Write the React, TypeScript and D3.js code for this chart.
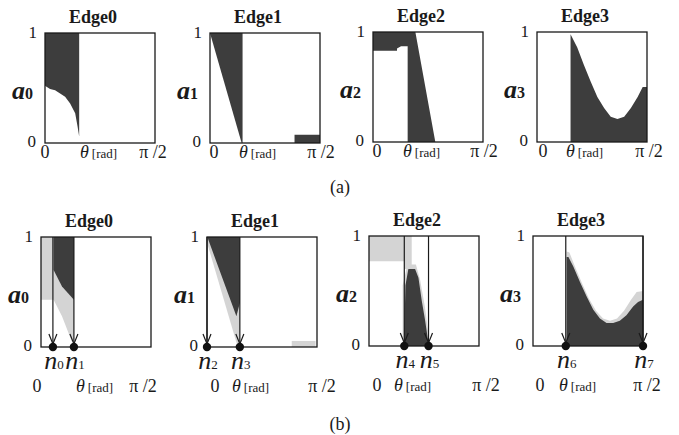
import React from "react";
import { scaleLinear, line } from "d3";

type Pt = [number, number];

const HALF_PI = Math.PI / 2;

// titles and axis names
const edgeTitles = ["Edge0", "Edge1", "Edge2", "Edge3"];
const axisIndex = ["0", "1", "2", "3"];
const nodeNames = [["0", "1"], ["2", "3"], ["4", "5"], ["6", "7"]];

// (a) feasible regions, [theta rad, a]
const a0Dark: Pt[] = [[0, 1], [0.488, 1], [0.488, 0.06], [0.465, 0.15], [0.431, 0.27], [0.359, 0.36], [0.287, 0.42], [0.216, 0.45], [0.144, 0.48], [0.072, 0.49], [0, 0.52]];
const a1Dark: Pt[] = [[0, 1], [0.465, 1], [0.465, 0], [0.452, 0]];
const a1DarkTail: Pt[] = [[1.207, 0], [1.571, 0], [1.571, 0.075], [1.207, 0.075]];
const a2Dark: Pt[] = [[0, 1], [0.605, 1], [0.89, 0], [0.495, 0], [0.495, 0.87], [0.4, 0.87], [0.343, 0.85], [0.343, 0.83], [0, 0.83]];
const a3Dark: Pt[] = [[0.479, 0], [0.479, 0.98], [0.575, 0.86], [0.67, 0.7], [0.766, 0.55], [0.862, 0.41], [0.958, 0.31], [1.053, 0.23], [1.149, 0.21], [1.245, 0.23], [1.341, 0.31], [1.437, 0.41], [1.509, 0.5], [1.571, 0.5], [1.571, 0]];

// (b) regions: light = lower weight, dark = selected
const b0Light: Pt[] = [[0, 1], [0.47, 1], [0.47, 0.05], [0.44, 0.05], [0.3, 0.28], [0.18, 0.43], [0, 0.43]];
const b0Dark: Pt[] = [[0.18, 1], [0.47, 1], [0.47, 0.43], [0.3, 0.55], [0.18, 0.7]];
const b1Light: Pt[] = [[0, 1], [0.469, 1], [0.469, 0.02], [0.43, 0.02], [0, 0.95]];
const b1LightTail: Pt[] = [[1.21, 0], [1.55, 0], [1.55, 0.055], [1.21, 0.055]];
const b1Dark: Pt[] = [[0, 1], [0.469, 1], [0.469, 0.4], [0.42, 0.28], [0.01, 0.99]];
const b2Light: Pt[] = [[0, 1], [0.61, 1], [0.61, 0.7], [0.5, 0.7], [0.5, 0.77], [0, 0.77]];
const b2Fringe: Pt[] = [[0.48, 0], [0.48, 0.55], [0.55, 0.74], [0.67, 0.74], [0.73, 0.6], [0.8, 0.35], [0.87, 0]];
const b2Dark: Pt[] = [[0.5, 0], [0.52, 0.55], [0.562, 0.7], [0.658, 0.7], [0.706, 0.62], [0.754, 0.41], [0.802, 0.23], [0.85, 0.02], [0.85, 0]];
const b3Light: Pt[] = [[0.48, 0], [0.48, 0.86], [0.52, 0.85], [0.6, 0.72], [0.7, 0.57], [0.8, 0.43], [0.9, 0.32], [1.0, 0.25], [1.1, 0.23], [1.2, 0.25], [1.3, 0.32], [1.4, 0.42], [1.48, 0.49], [1.571, 0.5], [1.571, 0]];
const b3Dark: Pt[] = [[0.48, 0], [0.48, 0.81], [0.506, 0.81], [0.577, 0.72], [0.672, 0.58], [0.766, 0.45], [0.861, 0.33], [0.956, 0.25], [1.05, 0.21], [1.145, 0.21], [1.24, 0.23], [1.334, 0.28], [1.43, 0.36], [1.5, 0.4], [1.571, 0.42], [1.571, 0]];

// node positions on theta axis
const b0Nodes = [0.17, 0.47];
const b1Nodes = [0, 0.469];
const b2Nodes = [0.504, 0.85];
const b3Nodes = [0.468, 1.571];

const topRegions = [
  { light: [] as Pt[][], dark: [a0Dark] },
  { light: [], dark: [a1Dark, a1DarkTail] },
  { light: [], dark: [a2Dark] },
  { light: [], dark: [a3Dark] },
];
const bottomRegions = [
  { light: [b0Light], dark: [b0Dark], nodes: b0Nodes },
  { light: [b1Light, b1LightTail], dark: [b1Dark], nodes: b1Nodes },
  { light: [b2Light, b2Fringe], dark: [b2Dark], nodes: b2Nodes },
  { light: [b3Light], dark: [b3Dark], nodes: b3Nodes },
];

// layout
const SIZE = 110;
const topLayout = [
  { x: 45, y: 33, zero: 0, theta: 35, pi: -2 },
  { x: 210, y: 33, zero: 4, theta: 29, pi: 1 },
  { x: 373, y: 32, zero: 4, theta: 30, pi: 1 },
  { x: 537, y: 32, zero: 6, theta: 29, pi: 2 },
];
const bottomLayout = [
  { x: 41, y: 237, zero: -4, theta: 35, pi: -8 },
  { x: 207, y: 237, zero: 8, theta: 25, pi: 5 },
  { x: 369, y: 236, zero: 8, theta: 25, pi: 7 },
  { x: 533, y: 236, zero: 7, theta: 26, pi: 4 },
];

const DARK = "#3d3d3d";
const LIGHT = "#d4d4d4";
const INK = "#1a1a1a";
const SERIF = '"Liberation Serif", "Times New Roman", Times, serif';

const xScale = scaleLinear().domain([0, HALF_PI]).range([0, SIZE]);
const yScale = scaleLinear().domain([0, 1]).range([SIZE, 0]);
const poly = line<Pt>()
  .x((d) => xScale(d[0]))
  .y((d) => yScale(d[1]));

function Panel({ i, lay, light, dark, nodes, xLabelDy }: any) {
  const bottom = SIZE;
  return (
    <g transform={`translate(${lay.x},${lay.y})`} style={{ fontFamily: SERIF }} fill={INK}>
      <text x={SIZE / 2 - 7} y={-10} textAnchor="middle" fontWeight="bold" fontSize={18}>
        {edgeTitles[i]}
      </text>
      {light.map((p: Pt[], k: number) => (
        <path key={"l" + k} d={poly(p) + "Z"} fill={LIGHT} />
      ))}
      {dark.map((p: Pt[], k: number) => (
        <path key={"d" + k} d={poly(p) + "Z"} fill={DARK} />
      ))}
      <rect x={0} y={0} width={SIZE} height={SIZE} fill="none" stroke={INK} strokeWidth={1.3} />
      <text x={-8} y={5} textAnchor="end" fontSize={17}>1</text>
      <text x={-9} y={bottom + 4} textAnchor="end" fontSize={17}>0</text>
      <text x={-33} y={66} fontSize={26}>
        <tspan fontWeight="bold" fontStyle="italic">a</tspan>
        <tspan fontSize={16} fontWeight="bold">{axisIndex[i]}</tspan>
      </text>
      {nodes &&
        nodes.map((t: number, k: number) => {
          const nx = xScale(t);
          return (
            <g key={"n" + k}>
              <line x1={nx} x2={nx} y1={0} y2={bottom - 3} stroke={INK} strokeWidth={1.2} />
              <polyline
                points={`${nx - 4},${bottom - 13} ${nx},${bottom - 3} ${nx + 4},${bottom - 13}`}
                fill="none"
                stroke={INK}
                strokeWidth={1.2}
              />
              <circle cx={nx} cy={bottom} r={4.2} fill="#111" />
              <text x={nx + 1} y={bottom + 22} textAnchor="middle" fontSize={26} fontStyle="italic">
                n<tspan fontSize={13} fontStyle="normal">{nodeNames[i][k]}</tspan>
              </text>
            </g>
          );
        })}
      <g transform={`translate(0,${bottom + xLabelDy})`}>
        <text x={lay.zero} y={0} textAnchor="middle" fontSize={18}>0</text>
        <text x={lay.theta} y={0} fontSize={18}>
          <tspan fontStyle="italic">θ</tspan>
          <tspan fontSize={13} dx={3}>[rad]</tspan>
        </text>
        <text x={SIZE + lay.pi} y={0} textAnchor="middle" fontSize={18}>
          π /2
        </text>
      </g>
    </g>
  );
}

export default function App() {
  return (
    <svg width={679} height={435} style={{ position: "absolute", left: 0, top: 0, background: "#fff", fontFamily: SERIF }}>
      {topLayout.map((lay, i) => (
        <Panel key={"a" + i} i={i} lay={lay} light={topRegions[i].light} dark={topRegions[i].dark} xLabelDy={15} />
      ))}
      {bottomLayout.map((lay, i) => (
        <Panel
          key={"b" + i}
          i={i}
          lay={lay}
          light={bottomRegions[i].light}
          dark={bottomRegions[i].dark}
          nodes={bottomRegions[i].nodes}
          xLabelDy={45}
        />
      ))}
      <text x={340} y={193} textAnchor="middle" fontSize={18} fill={INK}>(a)</text>
      <text x={340} y={430} textAnchor="middle" fontSize={18} fill={INK}>(b)</text>
    </svg>
  );
}
